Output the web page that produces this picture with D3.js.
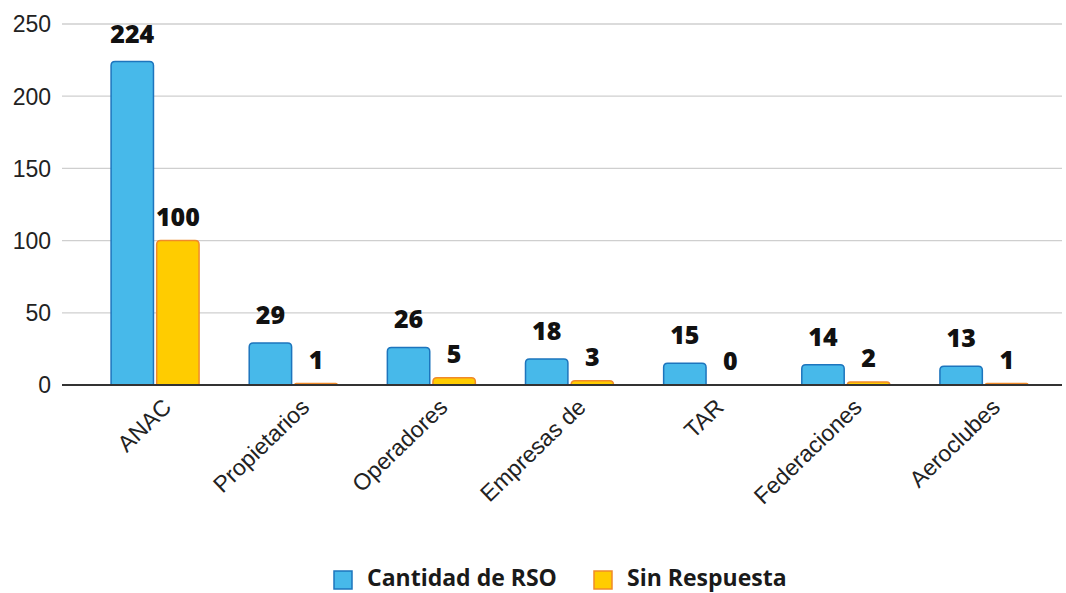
<!DOCTYPE html>
<html>
<head>
<meta charset="utf-8">
<script src="https://cdn.jsdelivr.net/npm/d3@7"></script>
<style>
  body { margin: 0; background: #fff; }
</style>
</head>
<body>
<div id="chart"></div>
<script>
  var categories = ['ANAC', 'Propietarios', 'Operadores', 'Empresas de', 'TAR', 'Federaciones', 'Aeroclubes'];
  var cantidadRSO = [224, 29, 26, 18, 15, 14, 13];
  var sinRespuesta = [100, 1, 5, 3, 0, 2, 1];
  var seriesNames = ['Cantidad de RSO', 'Sin Respuesta'];
  var yTicks = [0, 50, 100, 150, 200, 250];

  var width = 1066, height = 593;
  var fills = ['#47b9ea', '#ffcc00'];
  var strokes = ['#1d75bd', '#f08a2a'];

  var svg = d3.select('#chart').append('svg')
      .attr('width', width)
      .attr('height', height);

  var y = d3.scaleLinear().domain([0, 250]).range([385, 24]);
  var x = d3.scaleBand().domain(categories).range([86, 1053]).padding(0);
  var xs = d3.scaleBand().domain([0, 1]).range([-44, 44]).paddingInner(0.07);

  // grid
  svg.append('g')
    .selectAll('line')
    .data(yTicks.filter(d => d > 0))
    .enter().append('line')
      .attr('x1', 62).attr('x2', 1062)
      .attr('y1', d => y(d)).attr('y2', d => y(d))
      .attr('stroke', '#cfcfcf')
      .attr('stroke-width', 1.3);

  var yAxis = svg.append('g')
      .attr('transform', 'translate(51,0)')
      .call(d3.axisLeft(y).tickValues(yTicks).tickSize(0).tickPadding(0));
  yAxis.select('.domain').remove();
  yAxis.selectAll('text')
      .attr('font-family', 'Liberation Sans, Arial, sans-serif')
      .attr('font-size', 23)
      .attr('fill', '#222')
      .attr('dy', '0.34em');

  var rows = categories.map((c, i) => ({ cat: c, vals: [cantidadRSO[i], sinRespuesta[i]] }));

  function barPath(x0, y0, w, h, r) {
    if (h <= 0) return '';
    r = Math.min(r, h, w / 2);
    return 'M' + x0 + ',' + (y0 + h) +
      'V' + (y0 + r) +
      'Q' + x0 + ',' + y0 + ' ' + (x0 + r) + ',' + y0 +
      'H' + (x0 + w - r) +
      'Q' + (x0 + w) + ',' + y0 + ' ' + (x0 + w) + ',' + (y0 + r) +
      'V' + (y0 + h) + 'Z';
  }

  var groups = svg.append('g').selectAll('g')
    .data(rows)
    .enter().append('g')
      .attr('transform', d => 'translate(' + (x(d.cat) + x.bandwidth() / 2) + ',0)');

  groups.selectAll('path')
    .data(d => d.vals.map((v, k) => ({ v: v, k: k })))
    .enter().append('path')
      .attr('d', d => barPath(xs(d.k), y(d.v), xs.bandwidth(), y(0) - y(d.v), 4))
      .attr('fill', d => fills[d.k])
      .attr('stroke', d => strokes[d.k])
      .attr('stroke-width', 1.5);

  groups.selectAll('text')
    .data(d => d.vals.map((v, k) => ({ v: v, k: k })))
    .enter().append('text')
      .text(d => d.v)
      .attr('x', d => xs(d.k) + xs.bandwidth() / 2)
      .attr('y', d => y(d.v) - (d.k === 0 ? 28 : 24))
      .attr('dy', '0.36em')
      .attr('text-anchor', 'middle')
      .attr('font-family', 'Open Sans, sans-serif')
      .attr('font-weight', 800)
      .attr('font-size', 25)
      .attr('fill', '#111');

  // baseline
  svg.append('line')
    .attr('x1', 62).attr('x2', 1062)
    .attr('y1', y(0)).attr('y2', y(0))
    .attr('stroke', '#333')
    .attr('stroke-width', 2);

  // x labels
  svg.append('g').selectAll('text')
    .data(categories)
    .enter().append('text')
      .text(d => d)
      .attr('transform', d => 'translate(' + (x(d) + x.bandwidth() / 2 + 12) + ',403) rotate(-44)')
      .attr('text-anchor', 'end')
      .attr('dy', '0.35em')
      .attr('font-family', 'Liberation Sans, Arial, sans-serif')
      .attr('font-size', 23)
      .attr('fill', '#222');

  // legend
  var legend = svg.append('g');
  var lx = [334, 594];
  seriesNames.forEach((name, k) => {
    legend.append('rect')
      .attr('x', lx[k]).attr('y', 571)
      .attr('width', 18).attr('height', 18)
      .attr('fill', fills[k])
      .attr('stroke', strokes[k])
      .attr('stroke-width', 1.5);
    legend.append('text')
      .text(name)
      .attr('x', lx[k] + 33).attr('y', 586)
      .attr('font-family', 'Open Sans, sans-serif')
      .attr('font-weight', 'bold')
      .attr('font-size', 23)
      .attr('fill', '#1a1a1a');
  });
</script>
</body>
</html>
